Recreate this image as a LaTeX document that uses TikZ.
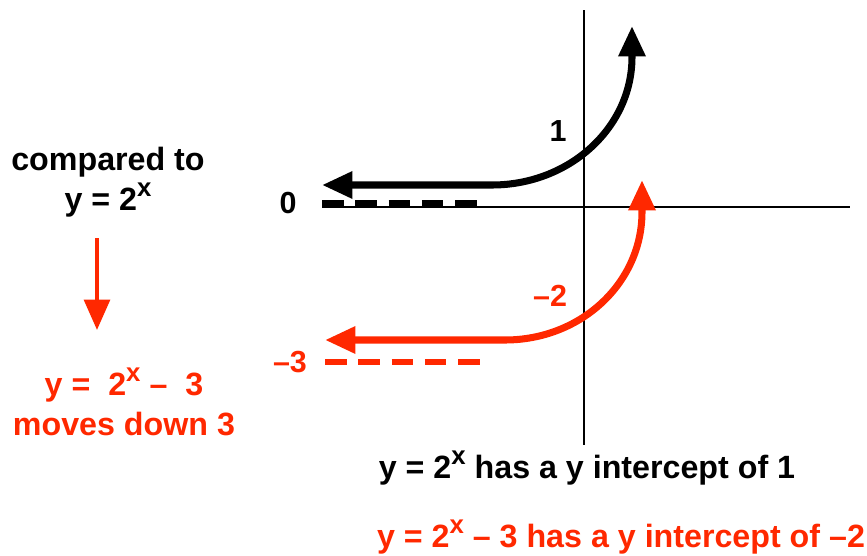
\documentclass[tikz,border=0pt]{standalone}
\usepackage{fontspec}
\setmainfont{Liberation Sans}
\usetikzlibrary{arrows.meta}
\definecolor{shiftred}{RGB}{255,40,0}
\newcommand{\sx}{\raisebox{0.42em}{\scalebox{0.8}{x}}}

\begin{document}
\begin{tikzpicture}[
    x=0.03cm,
    y=-0.03cm,
    >={Triangle[length=26pt,width=22pt]},
    axis/.style={
        line width=1.6pt
    },
    curve/.style={
        <->,
        line width=6pt
    },
    drop/.style={
        ->,
        line width=3.4pt,
        shiftred
    },
    asymptote/.style={
        line width=5pt,
        dash pattern=on 18.4pt off 10pt
    },
    value/.style={
        font=\fontsize{26}{30}\selectfont\bfseries,
        inner sep=0pt
    },
    caption/.style={
        font=\fontsize{27.5}{34}\selectfont\bfseries,
        align=center,
        inner sep=0pt
    }
]
\useasboundingbox (0,0) rectangle (867,555);

\coordinate (ytop) at (584,10);
\coordinate (ybot) at (584,445);
\coordinate (xleft) at (322,207);
\coordinate (xright) at (850,207);

\draw[axis] (ytop) -- (ybot);
\draw[axis] (xleft) -- (xright);

\coordinate (oldtail) at (322,185);
\coordinate (oldbend) at (492,185);
\coordinate (oldtop) at (632,57);
\coordinate (oldtip) at (632,26);

\coordinate (newtail) at (325,340);
\coordinate (newbend) at (505,340);
\coordinate (newtop) at (642,212);
\coordinate (newtip) at (642,180);

\draw[curve]
    (oldtail) -- (oldbend) .. controls +(77,0) and +(0,71) .. (oldtop) -- (oldtip);
\draw[curve,shiftred]
    (newtail) -- (newbend) .. controls +(76,0) and +(0,71) .. (newtop) -- (newtip);

\draw[asymptote] (322,203) -- (477,203);
\draw[asymptote,shiftred] (325,362) -- (480,362);

\node[value] (one) at (558,131) {1};
\node[value] (zero) at (288,203) {0};
\node[value,shiftred] (minustwo) at (550,296) {–2};
\node[value,shiftred] (minusthree) at (290,362) {–3};

\node[caption] (compared) at (108,182) {compared to\\y = 2\sx};
\node[caption,shiftred] (shifted) at (124,402) {y =\ \ 2\sx{} –\ \ 3\\moves\ down\ 3};

\coordinate (dropstart) at (97,238);
\coordinate (dropend) at (97,330);
\draw[drop] (dropstart) -- (dropend);

\node[caption] (oldint) at (587,468) {y = 2\sx{} has a y intercept of 1};
\node[caption,shiftred] (newint) at (621,537) {y = 2\sx{} – 3 has a y intercept of –2};

\end{tikzpicture}
\end{document}
